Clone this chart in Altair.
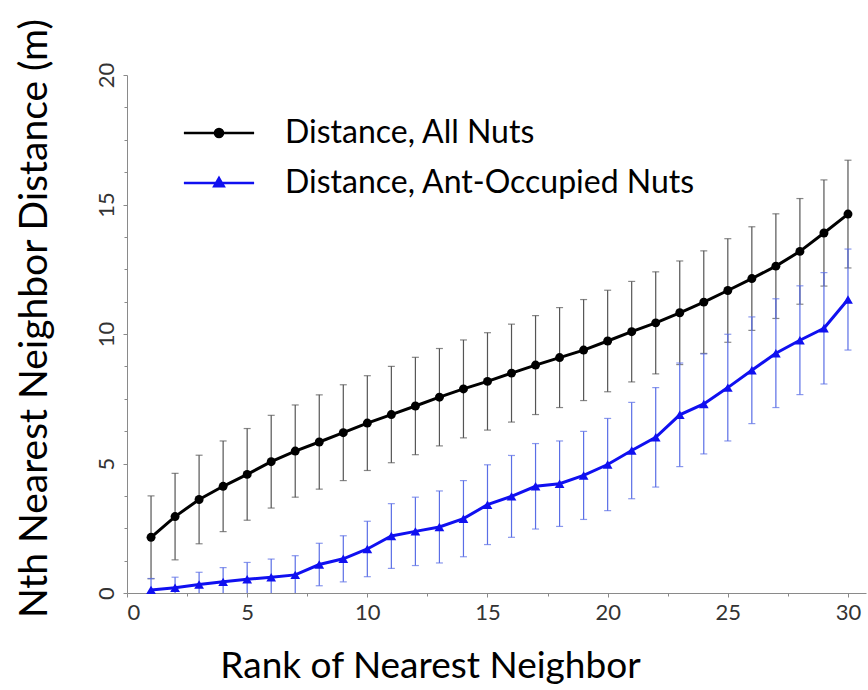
import altair as alt
import pandas as pd

# Rank of the nth nearest neighbour
rank = list(range(1, 31))

# Mean distance (m) and error half-width, all nuts
all_mean = [2.15, 2.95, 3.61, 4.12, 4.58, 5.07, 5.48, 5.83, 6.19, 6.56,
            6.89, 7.22, 7.56, 7.88, 8.17, 8.49, 8.80, 9.09, 9.38, 9.73,
            10.09, 10.43, 10.82, 11.23, 11.68, 12.14, 12.62, 13.19, 13.90, 14.63]
all_err = [1.60, 1.67, 1.71, 1.75, 1.77, 1.79, 1.78, 1.82, 1.85, 1.83,
           1.86, 1.88, 1.88, 1.89, 1.88, 1.89, 1.91, 1.93, 1.95, 1.96,
           1.94, 1.97, 2.00, 1.98, 2.00, 2.00, 2.02, 2.04, 2.05, 2.08]

# Mean distance (m) and error half-width, ant-occupied nuts
ant_mean = [0.12, 0.20, 0.33, 0.43, 0.53, 0.61, 0.70, 1.10, 1.32, 1.70,
            2.20, 2.38, 2.55, 2.87, 3.41, 3.73, 4.12, 4.22, 4.54, 4.96,
            5.50, 6.01, 6.88, 7.30, 7.93, 8.60, 9.26, 9.76, 10.22, 11.33]
ant_err = [0.44, 0.41, 0.47, 0.55, 0.65, 0.70, 0.74, 0.82, 0.89, 1.07,
           1.25, 1.32, 1.39, 1.47, 1.54, 1.58, 1.65, 1.65, 1.70, 1.78,
           1.86, 1.92, 2.00, 1.93, 2.06, 2.06, 2.10, 2.10, 2.15, 1.95]

series_names = ["Distance, All Nuts", "Distance, Ant-Occupied Nuts"]

x_major = [0, 5, 10, 15, 20, 25, 30]
x_minor = [2.5, 7.5, 12.5, 17.5, 22.5, 27.5]
y_major = [0, 5, 10, 15, 20]
y_minor = [1.25, 2.5, 3.75, 6.25, 7.5, 8.75, 11.25, 12.5, 13.75,
           16.25, 17.5, 18.75]

rows = []
for name, means, errs in [(series_names[0], all_mean, all_err),
                          (series_names[1], ant_mean, ant_err)]:
    for r, m, e in zip(rank, means, errs):
        rows.append({"rank": r, "series": name, "mean": m,
                     "lo": m - e, "hi": m + e})
df = pd.DataFrame(rows)

FONT = "Lato"
LINE_COLORS = ["#000000", "#1010f0"]
BAR_COLORS = ["#555555", "#5a6ee6"]

xs = alt.Scale(domain=[0, 30.75], nice=False, zero=False)
ys = alt.Scale(domain=[0, 20], nice=False, zero=False)

x_axis = alt.Axis(values=x_major, format="d", title="Rank of Nearest Neighbor",
                  grid=False, tickSize=4, labelPadding=5,
                  titleFontSize=37,
                  titleX=303, titleY=73, titleBaseline="middle",
                  titleAlign="center", titleAnchor="start")
y_axis = alt.Axis(values=y_major, format="d",
                  title="Nth Nearest Neighbor Distance (m)",
                  grid=False, tickSize=4, labelAngle=270, labelAlign="center",
                  labelBaseline="bottom", labelPadding=5,
                  titleFontSize=39,
                  titleAngle=270, titleX=-93, titleY=243,
                  titleBaseline="middle", titleAlign="center",
                  titleAnchor="start")
x_axis_minor = alt.Axis(values=x_minor, labels=False, domain=False, grid=False,
                        tickSize=3, title=None, orient="bottom")
y_axis_minor = alt.Axis(values=y_minor, labels=False, domain=False, grid=False,
                        tickSize=3, title=None, orient="left")

base = alt.Chart(df)


def error_layers(name, color, xa, ya):
    d = base.transform_filter(alt.datum.series == name)
    rule = d.mark_rule(color=color, strokeWidth=1.2, clip=True).encode(
        x=alt.X("rank:Q", scale=xs, axis=xa),
        y=alt.Y("lo:Q", scale=ys, axis=ya),
        y2="hi:Q",
    )
    cap_lo = d.mark_tick(color=color, orient="horizontal", size=7,
                         thickness=1.2, clip=True).encode(
        x=alt.X("rank:Q", scale=xs, axis=None),
        y=alt.Y("lo:Q", scale=ys, axis=None),
    )
    cap_hi = d.mark_tick(color=color, orient="horizontal", size=7,
                         thickness=1.2, clip=True).encode(
        x=alt.X("rank:Q", scale=xs, axis=None),
        y=alt.Y("hi:Q", scale=ys, axis=None),
    )
    return [rule, cap_lo, cap_hi]


def series_layers(name, color, shape, size):
    d = base.transform_filter(alt.datum.series == name)
    line = d.mark_line(color=color, strokeWidth=3).encode(
        x=alt.X("rank:Q", scale=xs, axis=None),
        y=alt.Y("mean:Q", scale=ys, axis=None),
    )
    pts = d.mark_point(color=color, filled=True, opacity=1, shape=shape,
                       size=size).encode(
        x=alt.X("rank:Q", scale=xs, axis=None),
        y=alt.Y("mean:Q", scale=ys, axis=None),
    )
    return [line, pts]


# Legend keys: a line sample with the series marker in its middle
legend_paths = [
    "M -7.8 0 L 7.8 0 M 0.9 0 A 0.9 0.9 0 1 1 -0.9 0 A 0.9 0.9 0 1 1 0.9 0 Z",
    "M -7.8 0 L 7.8 0 M 0 -1.1 L 1.05 0.7 L -1.05 0.7 Z",
]
legend = alt.Legend(title=None, orient="none", legendX=76, legendY=42,
                    symbolSize=81, symbolStrokeWidth=2.5, symbolOpacity=1,
                    symbolFillColor="black", symbolStrokeColor="black",
                    labelFont=FONT, labelFontSize=32, labelColor="#000000",
                    labelLimit=0, labelOffset=50, rowPadding=18, padding=0)
legend_layer = base.mark_point(filled=True, opacity=0).encode(
    x=alt.X("rank:Q", scale=xs, axis=None),
    y=alt.Y("mean:Q", scale=ys, axis=None),
    fill=alt.Fill("series:N", scale=alt.Scale(domain=series_names,
                                              range=LINE_COLORS), legend=legend),
    stroke=alt.Stroke("series:N", scale=alt.Scale(domain=series_names,
                                                  range=LINE_COLORS), legend=legend),
    shape=alt.Shape("series:N", scale=alt.Scale(domain=series_names,
                                                range=legend_paths), legend=legend),
)

layers = []
layers += error_layers(series_names[0], BAR_COLORS[0], x_axis, y_axis)
layers += error_layers(series_names[1], BAR_COLORS[1], x_axis_minor, y_axis_minor)
layers += series_layers(series_names[0], LINE_COLORS[0], "circle", 80)
layers += series_layers(series_names[1], LINE_COLORS[1], "triangle-up", 95)
layers.append(legend_layer)

chart = alt.layer(*layers).resolve_axis(
    x="independent", y="independent"
).properties(
    width=739,
    height=518,
    padding={"left": 127, "top": 75, "right": 2, "bottom": 97},
    autosize=alt.AutoSizeParams(type="none"),
    background="white",
).configure_view(
    stroke=None
).configure_axis(
    domainColor="#8a8a8a",
    tickColor="#8a8a8a",
    labelColor="#333333",
    labelFont=FONT,
    labelFontSize=22,
    titleFont=FONT,
    titleFontSize=34,
    titleFontWeight="normal",
    titleColor="#000000",
)

chart.save("out.html", embed_options={"renderer": "svg", "actions": False})
